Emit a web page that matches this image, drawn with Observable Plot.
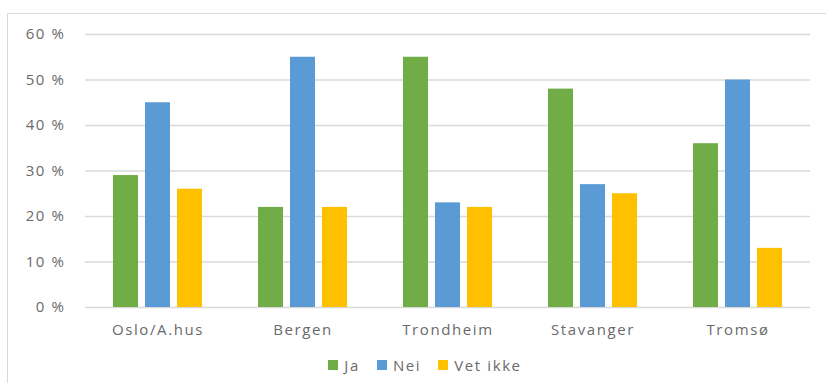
<!DOCTYPE html>
<html>
<head>
<meta charset="utf-8">
<script src="https://cdn.jsdelivr.net/npm/d3@7"></script>
<script src="https://cdn.jsdelivr.net/npm/@observablehq/plot@0.6"></script>
<style>
  html, body { margin: 0; padding: 0; background: #fff; }
  body { width: 826px; height: 383px; position: relative; overflow: hidden;
         font-family: "Open Sans", sans-serif; }
  #frame { position: absolute; left: 7px; top: 13px; width: 900px; height: 500px;
           border-top: 1.5px solid #d9d9d9; border-left: 1.5px solid #d9d9d9; }
  #chart { position: absolute; left: 0; top: 0; }
  #legend { position: absolute; top: 355px; left: 0; width: 826px; display: flex;
            justify-content: center; gap: 17px; font-size: 15px; letter-spacing: 1.6px;
            color: #6a6a6a; padding-left: 24px; box-sizing: border-box; }
  #legend span.item { display: flex; align-items: center; }
  #legend span.sw { width: 10px; height: 10px; display: inline-block; margin-right: 6px; }
</style>
</head>
<body>
<div id="frame"></div>
<div id="chart"></div>
<div id="legend"></div>
<script>
const cities = ["Oslo/A.hus", "Bergen", "Trondheim", "Stavanger", "Tromsø"];
const series = ["Ja", "Nei", "Vet ikke"];
const colors = ["#70AD47", "#5B9BD5", "#FFC000"];
const ja = [29, 22, 55, 48, 36];
const nei = [45, 55, 23, 27, 50];
const vetIkke = [26, 22, 22, 25, 13];
const yTicks = [0, 10, 20, 30, 40, 50, 60];

const valuesBySeries = [ja, nei, vetIkke];
const data = [];
cities.forEach((c, i) => series.forEach((s, j) => data.push({city: c, series: s, value: valuesBySeries[j][i]})));

const plot = Plot.plot({
  width: 826,
  height: 345,
  marginLeft: 83,
  marginRight: 14,
  marginTop: 34,
  marginBottom: 38,
  style: {fontFamily: "Open Sans, sans-serif", fontSize: "15px", color: "#6a6a6a", letterSpacing: "1.6px", background: "transparent"},
  fx: {domain: cities, padding: 0, label: null, axis: "bottom", tickSize: 0, tickPadding: 17},
  x: {domain: series, axis: null, paddingInner: 0.23, paddingOuter: 0.86},
  y: {domain: [0, 60], ticks: yTicks, tickSize: 0, tickPadding: 20, label: null, tickFormat: d => d + " %"},
  color: {domain: series, range: colors},
  marks: [
    Plot.ruleY(yTicks, {stroke: "#d9d9d9", strokeWidth: 1.5}),
    Plot.barY(data, {fx: "city", x: "series", y: "value", fill: "series"})
  ]
});
document.getElementById("chart").appendChild(plot);

const legend = document.getElementById("legend");
series.forEach((s, j) => {
  const item = document.createElement("span");
  item.className = "item";
  const sw = document.createElement("span");
  sw.className = "sw";
  sw.style.background = colors[j];
  item.appendChild(sw);
  item.appendChild(document.createTextNode(s));
  legend.appendChild(item);
});
</script>
</body>
</html>
